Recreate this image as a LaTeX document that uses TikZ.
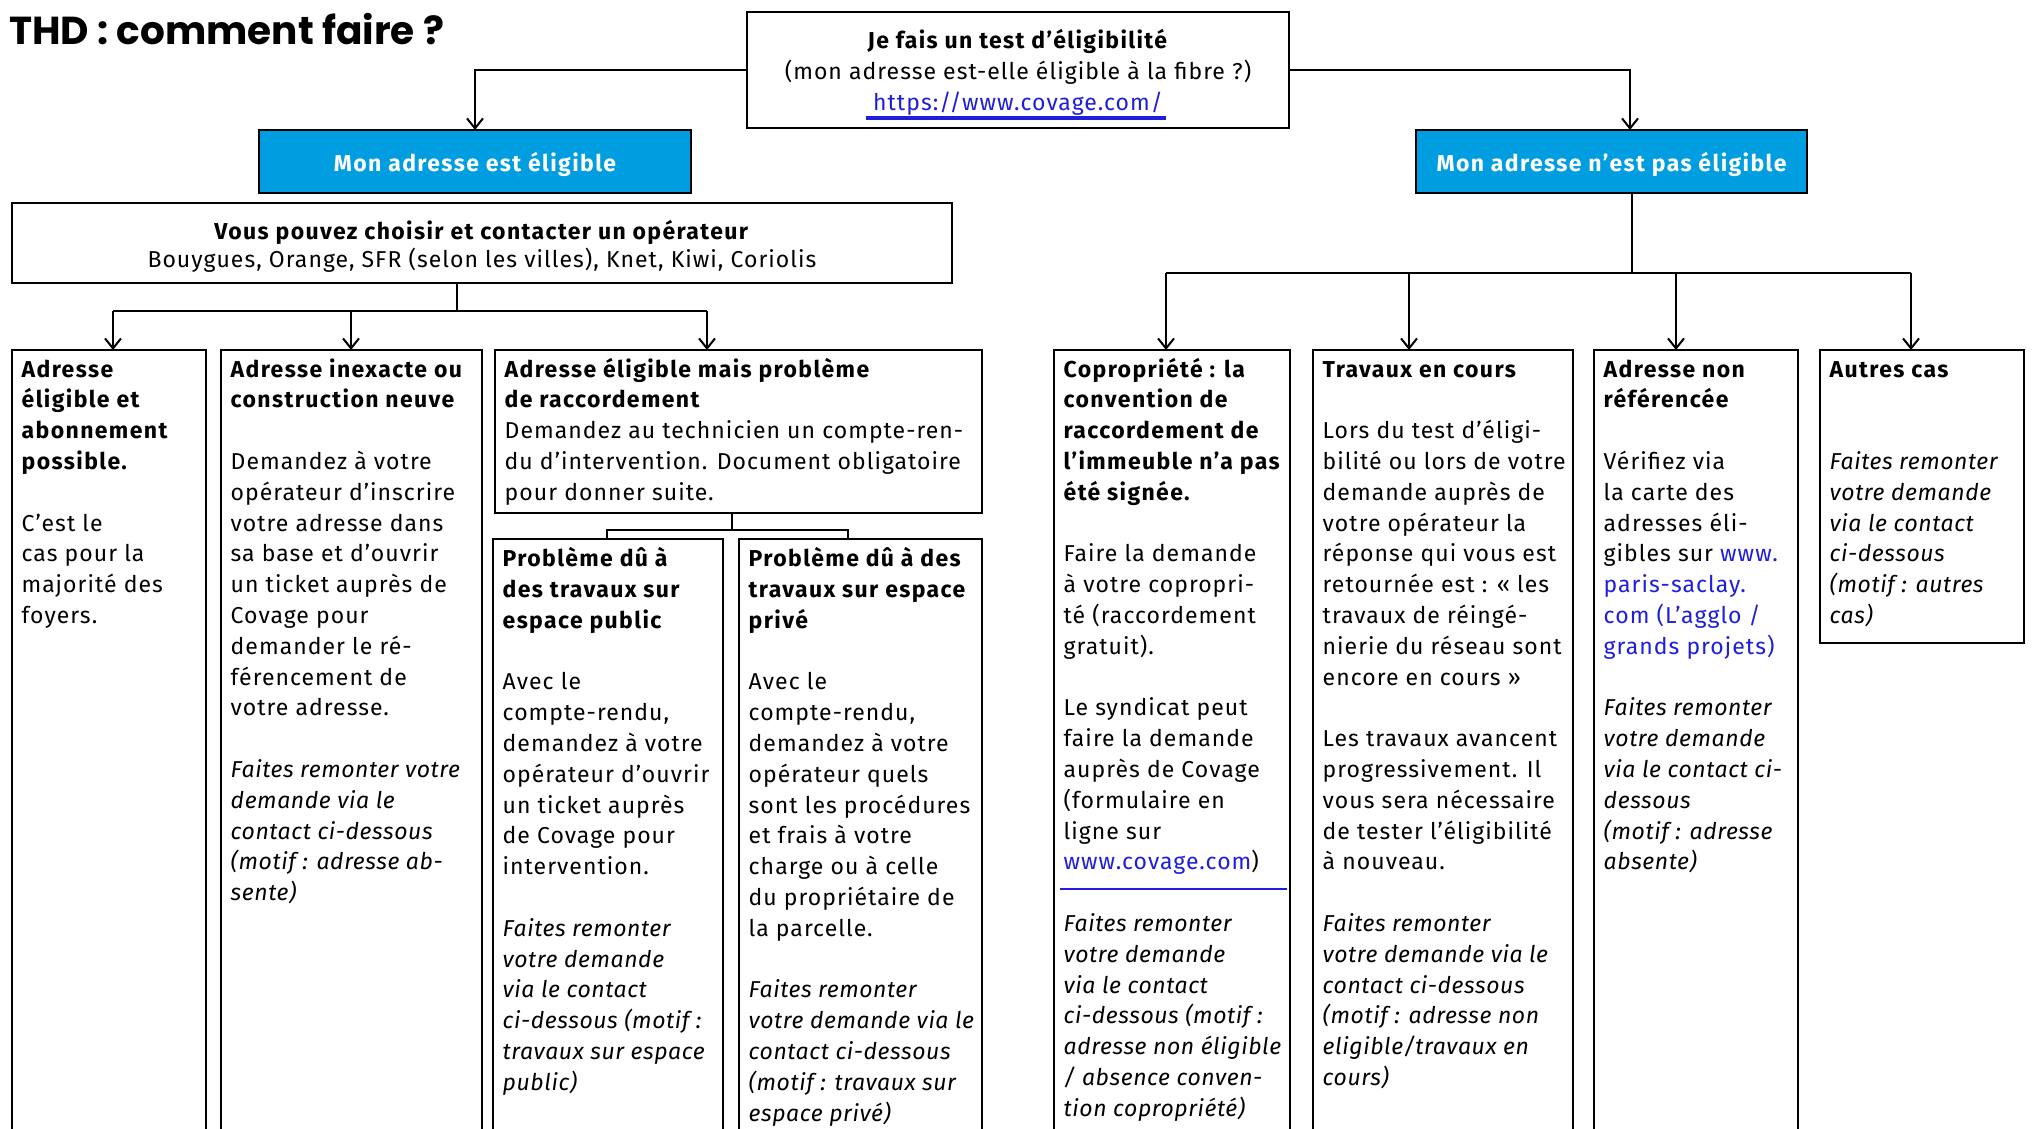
\documentclass[tikz,border=0pt]{standalone}
\usepackage{fontspec}
\setmainfont{Fira Sans}[LetterSpace=4.5, BoldFeatures={LetterSpace=6}, ItalicFeatures={LetterSpace=2.5}]
\newfontfamily\titlefont{Poppins}
\usetikzlibrary{arrows.meta,calc}
\definecolor{thdblue}{RGB}{0,158,224}
\definecolor{linkblue}{RGB}{30,30,220}
\newcommand\fs{\fontsize{23}{30.8}\selectfont}
\newcommand\fsop{\fontsize{23}{28.5}\selectfont}
\begin{document}
\begin{tikzpicture}[x=1pt,y=-1pt,
  box/.style={draw=black, line width=2pt, inner sep=0pt, outer sep=0pt, anchor=north west},
  bluebox/.style={draw=black, line width=2pt, fill=thdblue, text=white, font=\fs\bfseries, inner sep=0pt, outer sep=0pt, text depth=0pt},
  txt/.style={inner sep=0pt, anchor=north west, align=left, font=\fs},
  conn/.style={line width=2.2pt},
  arr/.style={conn, -{Straight Barb[length=10pt,width=16pt,line width=2pt]}},
]
\useasboundingbox[fill=white] (0,0) rectangle (2034,1129);

% title
\node[inner sep=0pt, anchor=base west, font=\titlefont\bfseries\fontsize{39}{44}\selectfont] (title) at (9,45) {THD : comment faire ?};

% top box
\node[box, minimum width=542pt, minimum height=116pt] (tb) at (747,12) {};
\node[txt, anchor=north, align=center] (tbt) at (1018,27) {\strut\textbf{Je fais un test d’éligibilité}\\ (mon adresse est-elle éligible à la fibre ?)\\ \textcolor{linkblue}{https://www.covage.com/}};
\draw[linkblue, line width=3.2pt] (866,118) -- (1166,118);

% blue boxes
\node[bluebox, minimum width=432pt, minimum height=63pt] (be1) at (475,161.5) {Mon adresse est éligible};
\node[bluebox, minimum width=391pt, minimum height=63pt] (be2) at (1611.5,161.5) {Mon adresse n’est pas éligible};

% operator box
\node[box, minimum width=940pt, minimum height=80pt] (op) at (12,203) {};
\node[txt, anchor=north, align=center, font=\fsop] (opt) at (482,219) {\strut\textbf{Vous pouvez choisir et contacter un opérateur}\\ Bouygues, Orange, SFR (selon les villes), Knet, Kiwi, Coriolis};

% lower boxes
\node[box, minimum width=194pt, minimum height=810pt] (b1) at (12,350) {};
\node[box, minimum width=261pt, minimum height=810pt] (b2) at (221,350) {};
\node[box, minimum width=487pt, minimum height=163pt] (b3) at (495,350) {};
\node[box, minimum width=230pt, minimum height=621pt] (bA) at (493,539) {};
\node[box, minimum width=243pt, minimum height=621pt] (bB) at (739,539) {};
\node[box, minimum width=236pt, minimum height=810pt] (b4) at (1054,350) {};
\node[box, minimum width=260pt, minimum height=810pt] (b5) at (1313,350) {};
\node[box, minimum width=204pt, minimum height=810pt] (b6) at (1594,350) {};
\node[box, minimum width=204pt, minimum height=293pt] (b7) at (1820,350) {};

% texts
\node[txt] (b1t) at (21.5,355.4) {\strut\textbf{Adresse}\\ \textbf{éligible et}\\ \textbf{abonnement}\\ \textbf{possible.}\\[\baselineskip] C’est le\\ cas pour la\\ majorité des\\ foyers.};

\node[txt] (b2t) at (230.5,355.4) {\strut\textbf{Adresse inexacte ou}\\ \textbf{construction neuve}\\[\baselineskip] Demandez à votre\\ opérateur d’inscrire\\ votre adresse dans\\ sa base et d’ouvrir\\ un ticket auprès de\\ Covage pour\\ demander le ré-\\ férencement de\\ votre adresse.\\[\baselineskip] \textit{Faites remonter votre}\\ \textit{demande via le}\\ \textit{contact ci-dessous}\\ \textit{(motif : adresse ab-}\\ \textit{sente)}};

\node[txt] (b3t) at (504.5,355.4) {\strut\textbf{Adresse éligible mais problème}\\ \textbf{de raccordement}\\ Demandez au technicien un compte-ren-\\ du d’intervention. Document obligatoire\\ pour donner suite.};

\node[txt] (bAt) at (502.5,545) {\strut\textbf{Problème dû à}\\ \textbf{des travaux sur}\\ \textbf{espace public}\\[\baselineskip] Avec le\\ compte-rendu,\\ demandez à votre\\ opérateur d’ouvrir\\ un ticket auprès\\ de Covage pour\\ intervention.\\[\baselineskip] \textit{Faites remonter}\\ \textit{votre demande}\\ \textit{via le contact}\\ \textit{ci-dessous (motif :}\\ \textit{travaux sur espace}\\ \textit{public)}};

\node[txt] (bBt) at (748.5,545) {\strut\textbf{Problème dû à des}\\ \textbf{travaux sur espace}\\ \textbf{privé}\\[\baselineskip] Avec le\\ compte-rendu,\\ demandez à votre\\ opérateur quels\\ sont les procédures\\ et frais à votre\\ charge ou à celle\\ du propriétaire de\\ la parcelle.\\[\baselineskip] \textit{Faites remonter}\\ \textit{votre demande via le}\\ \textit{contact ci-dessous}\\ \textit{(motif : travaux sur}\\ \textit{espace privé)}};

\node[txt] (b4t) at (1063.5,355.4) {\strut\textbf{Copropriété : la}\\ \textbf{convention de}\\ \textbf{raccordement de}\\ \textbf{l’immeuble n’a pas}\\ \textbf{été signée.}\\[\baselineskip] Faire la demande\\ à votre copropri-\\ té (raccordement\\ gratuit).\\[\baselineskip] Le syndicat peut\\ faire la demande\\ auprès de Covage\\ (formulaire en\\ ligne sur\\ \textcolor{linkblue}{www.covage.com})\\[\baselineskip] \textit{Faites remonter}\\ \textit{votre demande}\\ \textit{via le contact}\\ \textit{ci-dessous (motif :}\\ \textit{adresse non éligible}\\ \textit{/ absence conven-}\\ \textit{tion copropriété)}};
\draw[linkblue, line width=2.6pt] (1060,889) -- (1287,889);

\node[txt] (b5t) at (1322.5,355.4) {\strut\textbf{Travaux en cours}\\[\baselineskip] Lors du test d’éligi-\\ bilité ou lors de votre\\ demande auprès de\\ votre opérateur la\\ réponse qui vous est\\ retournée est : « les\\ travaux de réingé-\\ nierie du réseau sont\\ encore en cours »\\[\baselineskip] Les travaux avancent\\ progressivement. Il\\ vous sera nécessaire\\ de tester l’éligibilité\\ à nouveau.\\[\baselineskip] \textit{Faites remonter}\\ \textit{votre demande via le}\\ \textit{contact ci-dessous}\\ \textit{(motif : adresse non}\\ \textit{eligible/travaux en}\\ \textit{cours)}};

\node[txt] (b6t) at (1603.5,355.4) {\strut\textbf{Adresse non}\\ \textbf{référencée}\\[\baselineskip] Vérifiez via\\ la carte des\\ adresses éli-\\ gibles sur \textcolor{linkblue}{www.}\\ \textcolor{linkblue}{paris-saclay.}\\ \textcolor{linkblue}{com (L'agglo /}\\ \textcolor{linkblue}{grands projets)}\\[\baselineskip] \textit{Faites remonter}\\ \textit{votre demande}\\ \textit{via le contact ci-}\\ \textit{dessous}\\ \textit{(motif : adresse}\\ \textit{absente)}};

\node[txt] (b7t) at (1829.5,355.4) {\strut\textbf{Autres cas}\\[2\baselineskip] \textit{Faites remonter}\\ \textit{votre demande}\\ \textit{via le contact}\\ \textit{ci-dessous}\\ \textit{(motif : autres}\\ \textit{cas)}};

% connectors top
\draw[arr] (tb.west) -| (be1.north);
\coordinate (aR0) at (1630,0);
\draw[arr] (tb.east) -| (aR0 |- be2.north);

% left tree
\coordinate (jL) at (457,311);
\coordinate (aL1) at (113,311);
\coordinate (aL2) at (351,311);
\coordinate (aL3) at (707,311);
\draw[conn] (jL |- op.south) -- (jL);
\draw[conn] (aL1) -- (aL3);
\draw[arr] (aL1) -- (aL1 |- b1.north);
\draw[arr] (aL2) -- (aL2 |- b2.north);
\draw[arr] (aL3) -- (aL3 |- b3.north);

% sub tree
\coordinate (jS) at (732,530);
\coordinate (sA) at (607,530);
\coordinate (sB) at (848,530);
\draw[conn] (jS |- b3.south) -- (jS);
\draw[conn] (sA |- bA.north) -- (sA) -- (sB) -- (sB |- bB.north);

% right tree
\coordinate (jR) at (1632,273);
\coordinate (aR1) at (1166,273);
\coordinate (aR2) at (1409,273);
\coordinate (aR3) at (1676,273);
\coordinate (aR4) at (1911,273);
\draw[conn] (jR |- be2.south) -- (jR);
\draw[conn] (aR1) -- (aR4);
\draw[arr] (aR1) -- (aR1 |- b4.north);
\draw[arr] (aR2) -- (aR2 |- b5.north);
\draw[arr] (aR3) -- (aR3 |- b6.north);
\draw[arr] (aR4) -- (aR4 |- b7.north);
\end{tikzpicture}
\end{document}
